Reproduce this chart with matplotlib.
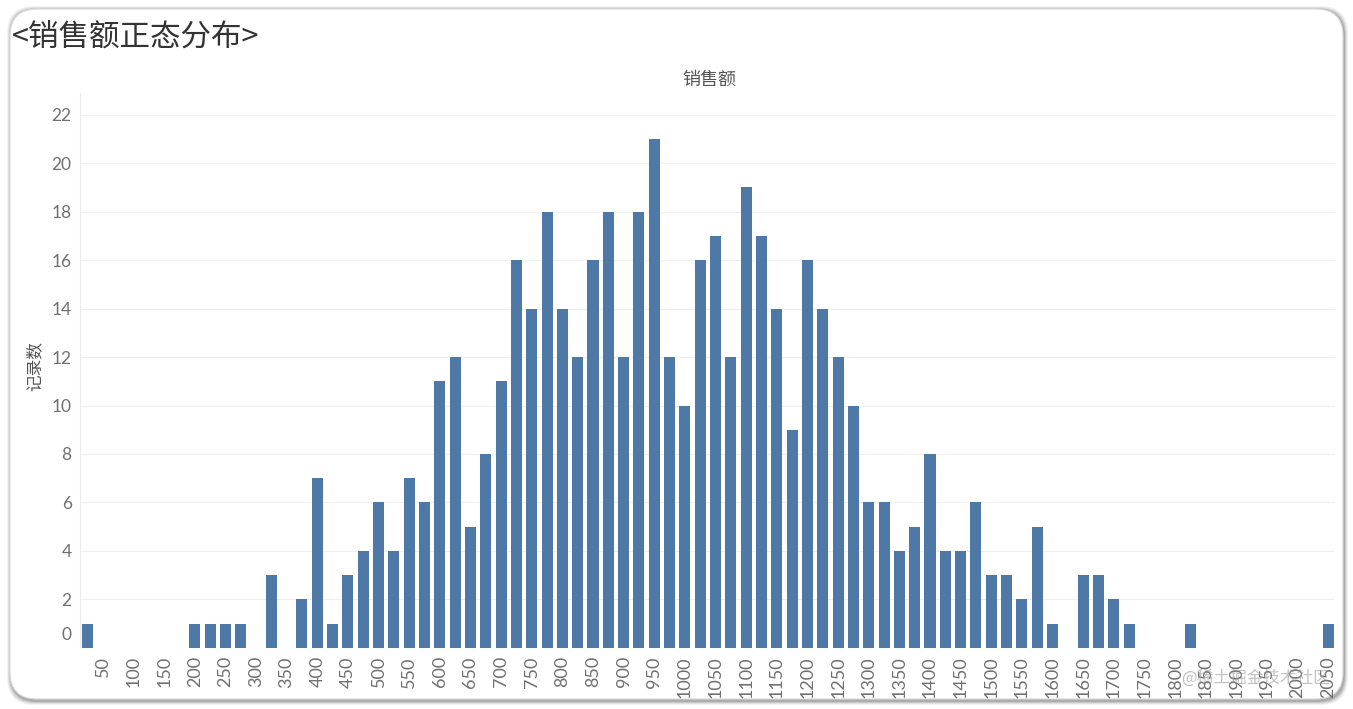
import numpy as np
import matplotlib
matplotlib.use("Agg")
import matplotlib.pyplot as plt
from matplotlib.patches import FancyBboxPatch
from matplotlib.transforms import ScaledTranslation

plt.rcParams['font.family'] = ['Noto Sans CJK SC', 'DejaVu Sans']

# bin start values (width 25) and record counts
bins = [25 * (i + 1) for i in range(82)]
counts = [
    1, 0, 0, 0, 0, 0, 0, 1, 1, 1,
    1, 0, 3, 0, 2, 7, 1, 3, 4, 6,
    4, 7, 6, 11, 12, 5, 8, 11, 16, 14,
    18, 14, 12, 16, 18, 12, 18, 21, 12, 10,
    16, 17, 12, 19, 17, 14, 9, 16, 14, 12,
    10, 6, 6, 4, 5, 8, 4, 4, 6, 3,
    3, 2, 5, 1, 0, 3, 3, 2, 1, 0,
    0, 0, 1, 0, 0, 0, 0, 0, 0, 0,
    0, 1,
]
x_ticks = list(range(50, 2051, 50))
y_ticks = list(range(0, 23, 2))

title = "<销售额正态分布>"
x_title = "销售额"
y_title = "记录数"
bar_color = "#4e79a7"

W, H = 1353, 709
fig = plt.figure(figsize=(W / 100, H / 100), dpi=100)
fig.patch.set_facecolor("white")

# card with soft shadow
for k, a in enumerate([0.05, 0.07, 0.10, 0.14]):
    off = 4 - k
    sh = FancyBboxPatch(((10 - off + 1) / W, (9 - off - 1) / H),
                        (1333 + 2 * off) / W, (691 + 2 * off) / H,
                        boxstyle="round,pad=0,rounding_size=0.02",
                        transform=fig.transFigure, facecolor="black",
                        edgecolor="none", alpha=a, zorder=-3,
                        mutation_aspect=W / H)
    fig.patches.append(sh)
card = FancyBboxPatch((10 / W, 10 / H), 1333 / W, 690 / H,
                      boxstyle="round,pad=0,rounding_size=0.02",
                      transform=fig.transFigure, facecolor="white",
                      edgecolor="#d8d8d8", linewidth=0.8, zorder=-2,
                      mutation_aspect=W / H)
fig.patches.append(card)

ax = fig.add_axes([80 / W, 1 - 647.8 / H, 1255 / W, (647.8 - 93) / H])
ax.set_zorder(2)
ax.set_facecolor("none")
ax.bar(bins, counts, width=18, color=bar_color, zorder=3)

ax.set_xlim(12.75, 2061)
ax.set_ylim(0, 22.9)
ax.set_xticks(x_ticks)
ax.set_xticklabels([str(v) for v in x_ticks], rotation=90, va="top", ha="center")
ax.set_yticks(y_ticks)
ax.tick_params(axis="both", length=0, labelcolor="#707070")
ax.tick_params(axis="x", pad=6, labelsize=13)
ax.tick_params(axis="y", pad=6, labelsize=12.5)
for lab in ax.get_xticklabels() + ax.get_yticklabels():
    lab.set_fontfamily(['Lato', 'DejaVu Sans'])

# zero label sits above the baseline, as in the original
zl = ax.get_yticklabels()[0]
zl.set_transform(zl.get_transform() + ScaledTranslation(0, 14 / 100, fig.dpi_scale_trans))

ax.grid(axis="y", color="#efefef", linewidth=0.8, zorder=0)
ax.grid(axis="x", visible=False)
for s in ["top", "right", "bottom"]:
    ax.spines[s].set_visible(False)
ax.spines["left"].set_color("#ebebeb")
ax.spines["left"].set_linewidth(0.8)

fig.text(12 / W, 1 - 38 / H, title, fontsize=22, color="#333333",
         ha="left", va="center")
fig.text(709 / W, 1 - 80 / H, x_title, fontsize=13, color="#555555",
         ha="center", va="center")
fig.text(35 / W, 1 - 366 / H, y_title, fontsize=12, color="#555555",
         ha="center", va="center", rotation=90)
fig.text(1330 / W, 1 - 678 / H, "@稀土掘金技术社区", fontsize=12,
         color="#999999", alpha=0.6, ha="right", va="center")

fig.savefig("out.png", dpi=100)
